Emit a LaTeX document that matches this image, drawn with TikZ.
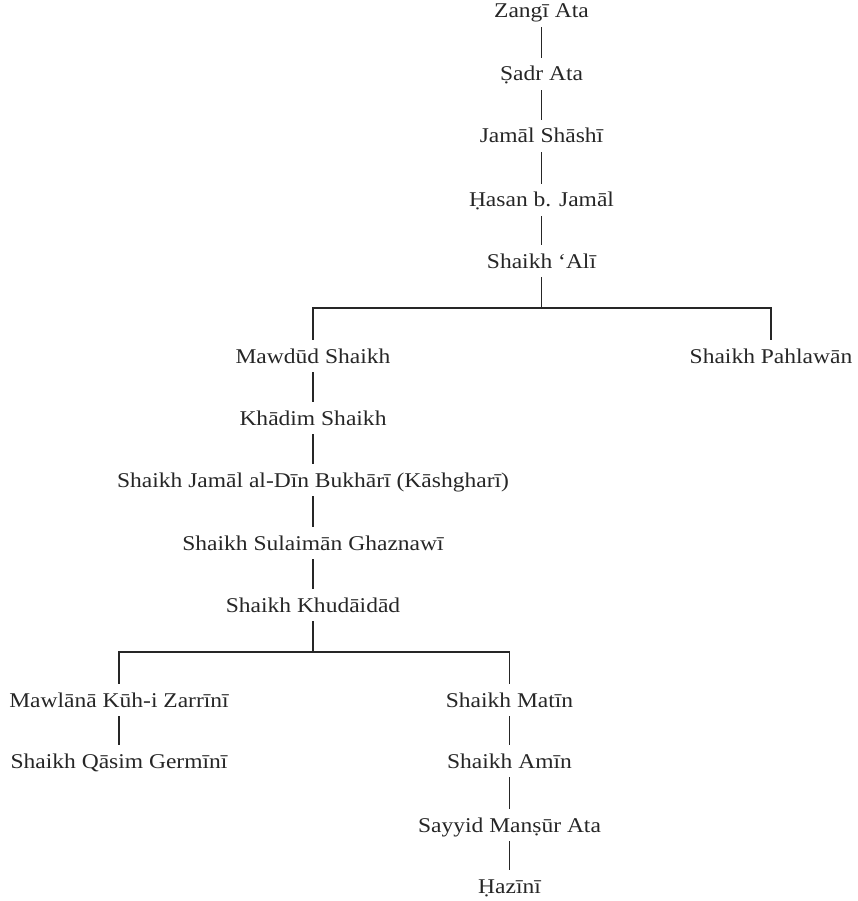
\documentclass[tikz,border=0pt]{standalone}
\usepackage{fontspec}
\setmainfont{Liberation Serif}[FakeStretch=1.12]
\begin{document}
\begin{tikzpicture}[x=1pt,y=-1pt,
  person/.style={anchor=base,inner xsep=0pt,inner ysep=9pt,text height=14pt,text depth=0pt,
    font=\fontsize{21}{24}\selectfont,text=black!85},
  link/.style={draw=black!85,line width=1.1pt}]
\useasboundingbox (0,0) rectangle (857,901);
\node[person] (zangi) at (541.5,18) {Zangī Ata};
\node[person] (sadr) at (541.5,81) {Ṣadr Ata};
\node[person] (jamal) at (541.5,143) {Jamāl Shāshī};
\node[person] (hasan) at (541.5,207) {Ḥasan b. Jamāl};
\node[person] (ali) at (541.5,268) {Shaikh ‘Alī};
\coordinate (j1) at (541.5,308);
\node[person] (mawdud) at (313,363) {Mawdūd Shaikh};
\node[person] (pahlawan) at (771,363) {Shaikh Pahlawān};
\node[person] (khadim) at (313,425) {Khādim Shaikh};
\node[person] (bukhari) at (313,487) {Shaikh Jamāl al-Dīn Bukhārī (Kāshgharī)};
\node[person] (sulaiman) at (313,550) {Shaikh Sulaimān Ghaznawī};
\node[person] (khudaidad) at (313,612) {Shaikh Khudāidād};
\coordinate (j2) at (313,652);
\node[person] (mawlana) at (119,707) {Mawlānā Kūh-i Zarrīnī};
\node[person] (qasim) at (119,768) {Shaikh Qāsim Germīnī};
\node[person] (matin) at (509.5,707) {Shaikh Matīn};
\node[person] (amin) at (509.5,768) {Shaikh Amīn};
\node[person] (sayyid) at (509.5,832) {Sayyid Manṣūr Ata};
\node[person] (hazini) at (509.5,893) {Ḥazīnī};
\path[link] (zangi.south) -- (sadr.north);
\path[link] (sadr.south) -- (jamal.north);
\path[link] (jamal.south) -- (hasan.north);
\path[link] (hasan.south) -- (ali.north);
\path[link] (ali.south) -- (j1);
\path[link] (mawdud.north) |- (j1) -| (pahlawan.north);
\path[link] (mawdud.south) -- (khadim.north);
\path[link] (khadim.south) -- (bukhari.north);
\path[link] (bukhari.south) -- (sulaiman.north);
\path[link] (sulaiman.south) -- (khudaidad.north);
\path[link] (khudaidad.south) -- (j2);
\path[link] (mawlana.north) |- (j2) -| (matin.north);
\path[link] (mawlana.south) -- (qasim.north);
\path[link] (matin.south) -- (amin.north);
\path[link] (amin.south) -- (sayyid.north);
\path[link] (sayyid.south) -- (hazini.north);
\end{tikzpicture}
\end{document}
